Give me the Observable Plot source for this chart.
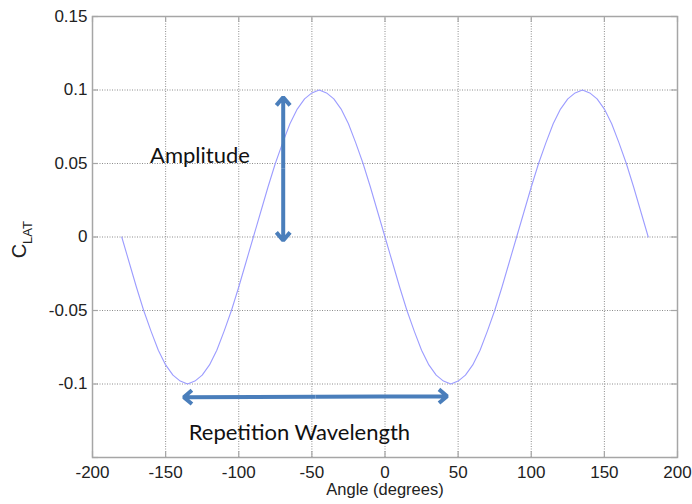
<!DOCTYPE html>
<html>
<head>
<meta charset="utf-8">
<script src="https://cdn.jsdelivr.net/npm/d3@7"></script>
<script src="https://cdn.jsdelivr.net/npm/@observablehq/plot@0.6"></script>
<style>
  html, body { margin: 0; padding: 0; background: #ffffff; }
  #chart svg { display: block; background: #ffffff; }
</style>
</head>
<body>
<div id="chart"></div>
<script>
// Angle (degrees) and lateral force coefficient
const angle = [
  -180,-175,-170,-165,-160,-155,-150,-145,-140,-135,-130,-125,-120,-115,-110,-105,-100,-95,-90,
  -85,-80,-75,-70,-65,-60,-55,-50,-45,-40,-35,-30,-25,-20,-15,-10,-5,0,
  5,10,15,20,25,30,35,40,45,50,55,60,65,70,75,80,85,90,
  95,100,105,110,115,120,125,130,135,140,145,150,155,160,165,170,175,180
];
const cLat = [
  0,-0.017,-0.034,-0.05,-0.064,-0.077,-0.087,-0.094,-0.098,-0.1,-0.098,-0.094,-0.087,-0.077,-0.064,-0.05,-0.034,-0.017,0,
  0.017,0.034,0.05,0.064,0.077,0.087,0.094,0.098,0.1,0.098,0.094,0.087,0.077,0.064,0.05,0.034,0.017,0,
  -0.017,-0.034,-0.05,-0.064,-0.077,-0.087,-0.094,-0.098,-0.1,-0.098,-0.094,-0.087,-0.077,-0.064,-0.05,-0.034,-0.017,0,
  0.017,0.034,0.05,0.064,0.077,0.087,0.094,0.098,0.1,0.098,0.094,0.087,0.077,0.064,0.05,0.034,0.017,0
];
const xTicks = [-200,-150,-100,-50,0,50,100,150,200];
const yTicks = [-0.1,-0.05,0,0.05,0.1,0.15];
const yGrid = [-0.15,-0.1,-0.05,0,0.05,0.1,0.15];

// Annotation arrows (data coordinates) and labels
const amplitudeArrow = {x: -69.6, yBottom: -0.0024, yTop: 0.0951};
const wavelengthArrow = {xLeft: -137.6, yLeft: -0.109, xRight: 42.5, yRight: -0.1083};
const annotationLabels = ["Amplitude", "Repetition Wavelength"];
const annotationX = [-126.5, -58.5];
const annotationY = [0.0554, -0.133];

const data = angle.map((a, i) => ({angle: a, c: cLat[i]}));
const labels = annotationLabels.map((t, i) => ({t, x: annotationX[i], y: annotationY[i]}));

const midV = (amplitudeArrow.yBottom + amplitudeArrow.yTop) / 2;
const midHx = (wavelengthArrow.xLeft + wavelengthArrow.xRight) / 2;
const midHy = (wavelengthArrow.yLeft + wavelengthArrow.yRight) / 2;
const arrowHalves = [
  {x1: amplitudeArrow.x, y1: midV, x2: amplitudeArrow.x, y2: amplitudeArrow.yTop},
  {x1: amplitudeArrow.x, y1: midV, x2: amplitudeArrow.x, y2: amplitudeArrow.yBottom},
  {x1: midHx, y1: midHy, x2: wavelengthArrow.xLeft, y2: wavelengthArrow.yLeft},
  {x1: midHx, y1: midHy, x2: wavelengthArrow.xRight, y2: wavelengthArrow.yRight}
];

const W = 692, H = 504, mL = 92, mR = 15, mT = 16, mB = 47;
const frameW = W - mL - mR, frameH = H - mT - mB, tickLen = 6;

const arrowColor = "#4a7ebb";
const textColor = "#222222";
const frameColor = "#a6a6a6";

const chart = Plot.plot({
  width: W,
  height: H,
  marginLeft: mL,
  marginRight: mR,
  marginTop: mT,
  marginBottom: mB,
  style: {fontFamily: "'Liberation Sans', Arial, sans-serif", background: "#ffffff", color: textColor},
  x: {domain: [-200, 200]},
  y: {domain: [-0.15, 0.15]},
  marks: [
    Plot.gridX(xTicks, {stroke: "#8c8c8c", strokeOpacity: 1, strokeDasharray: "1,1.5", strokeWidth: 1}),
    Plot.gridY(yGrid, {stroke: "#8c8c8c", strokeOpacity: 1, strokeDasharray: "1,1.5", strokeWidth: 1}),
    // inward tick marks on all four sides
    Plot.tickX(xTicks, {x: d => d, stroke: frameColor, strokeWidth: 1.2, insetBottom: frameH - tickLen}),
    Plot.tickX(xTicks, {x: d => d, stroke: frameColor, strokeWidth: 1.2, insetTop: frameH - tickLen}),
    Plot.tickY(yGrid, {y: d => d, stroke: frameColor, strokeWidth: 1.2, insetRight: frameW - tickLen}),
    Plot.tickY(yGrid, {y: d => d, stroke: frameColor, strokeWidth: 1.2, insetLeft: frameW - tickLen}),
    Plot.frame({stroke: frameColor, strokeWidth: 1.5}),
    Plot.axisX({ticks: xTicks, tickSize: 0, tickPadding: 8, fontSize: 17, label: null, tickFormat: d => String(d)}),
    Plot.axisY({ticks: yTicks, tickSize: 0, tickPadding: 5, fontSize: 17, label: null, tickFormat: d => String(d)}),
    Plot.line(data, {x: "angle", y: "c", stroke: "#9c9cff", strokeWidth: 1.1}),
    Plot.arrow(arrowHalves, {x1: "x1", y1: "y1", x2: "x2", y2: "y2", stroke: arrowColor, strokeWidth: 4, headLength: 4, headAngle: 80, strokeLinecap: "butt"}),
    Plot.text(labels, {x: "x", y: "y", text: "t", fontSize: 22, fontFamily: "Lato, 'Open Sans', sans-serif", fill: "#111111"}),
    Plot.text(["Angle (degrees)"], {frameAnchor: "bottom", dy: 37.5, fontSize: 16.5, fill: textColor}),
    Plot.text(["C"], {frameAnchor: "left", textAnchor: "middle", dx: -72.5, dy: 14, rotate: -90, fontSize: 20, fill: textColor}),
    Plot.text(["LAT"], {frameAnchor: "left", textAnchor: "middle", dx: -64.5, dy: -4.5, rotate: -90, fontSize: 13, fill: textColor})
  ]
});
document.getElementById("chart").appendChild(chart);
</script>
</body>
</html>
